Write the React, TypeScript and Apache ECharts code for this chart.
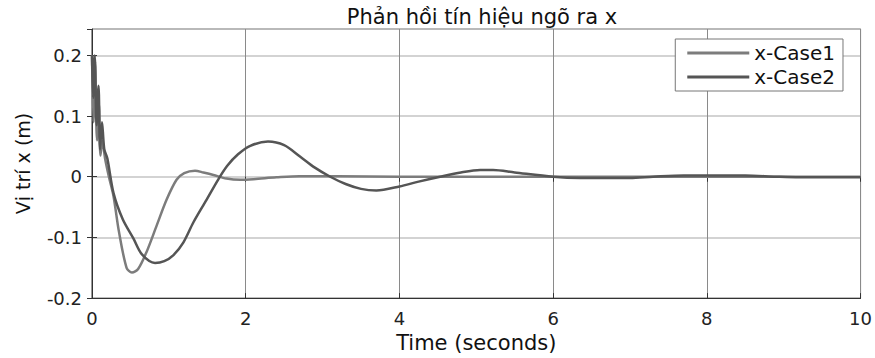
import React, { useEffect, useRef } from "react";
import * as echarts from "echarts";

const titleText = "Phản hồi tín hiệu ngõ ra x";
const xAxisName = "Time (seconds)";
const yAxisName = "Vị trí x (m)";
const seriesNames = ["x-Case1", "x-Case2"];

const tCase1 = [0, 0.02, 0.04, 0.065, 0.09, 0.11, 0.135, 0.17, 0.22, 0.28, 0.35, 0.45, 0.52, 0.6, 0.71, 0.84, 0.97, 1.1, 1.2, 1.34, 1.45, 1.58, 1.75, 1.93, 2.1, 2.4, 2.7, 3.2, 4, 5, 6, 7, 8, 9, 10];
const xCase1 = [0.2, 0.09, 0.19, 0.06, 0.12, 0.035, 0.06, 0.03, 0.0, -0.032, -0.09, -0.15, -0.158, -0.152, -0.124, -0.081, -0.038, -0.005, 0.006, 0.01, 0.007, 0.003, -0.003, -0.005, -0.004, -0.001, 0.001, 0.001, 0, 0, 0, 0, 0, 0, 0];

const tCase2 = [0, 0.015, 0.035, 0.06, 0.085, 0.105, 0.13, 0.16, 0.2, 0.28, 0.4, 0.54, 0.65, 0.82, 0.94, 1.06, 1.19, 1.32, 1.49, 1.64, 1.76, 1.9, 2.06, 2.29, 2.5, 2.71, 2.9, 3.1, 3.3, 3.5, 3.7, 4.0, 4.25, 4.53, 4.8, 5.05, 5.22, 5.5, 6.0, 6.35, 7.0, 7.3, 7.7, 8.5, 8.9, 9.2, 10];
const xCase2 = [0.2, 0.13, 0.2, 0.085, 0.15, 0.045, 0.09, 0.045, 0.03, -0.027, -0.07, -0.102, -0.128, -0.142, -0.139, -0.129, -0.108, -0.075, -0.038, -0.005, 0.018, 0.037, 0.051, 0.058, 0.052, 0.033, 0.015, 0, -0.012, -0.02, -0.0226, -0.016, -0.008, 0, 0.007, 0.011, 0.011, 0.007, 0, -0.002, -0.002, 0, 0.002, 0.002, 0, -0.001, -0.001];

const xTicksStep = 2;
const yTicksStep = 0.1;

const FONT = "DejaVu Sans";

export default function App() {
  const ref = useRef<HTMLDivElement>(null);
  useEffect(() => {
    if (!ref.current) return;
    const chart = echarts.init(ref.current, undefined, { renderer: "svg" });
    const yFmt = (v: number) => {
      const r = Math.round(v / yTicksStep);
      if (Math.abs(v - r * yTicksStep) > 1e-6) return "";
      const val = r * yTicksStep;
      if (r === 0) return "0";
      return val.toFixed(1);
    };
    const hiddenAxisCommon = {
      axisLine: { show: false },
      axisLabel: { show: false },
      splitLine: { show: false },
    };
    chart.setOption({
      animation: false,
      backgroundColor: "#ffffff",
      title: {
        text: titleText,
        left: 477,
        textAlign: "center",
        top: 1,
        textStyle: { fontFamily: FONT, fontSize: 21, fontWeight: "normal", color: "#111" },
      },
      legend: {
        data: seriesNames,
        orient: "vertical",
        right: 32,
        top: 39,
        backgroundColor: "#ffffff",
        borderColor: "#777",
        borderWidth: 1,
        padding: [4, 8, 4, 12],
        itemWidth: 62,
        itemHeight: 3,
        itemGap: 4,
        icon: "rect",
        textStyle: { fontFamily: FONT, fontSize: 20, color: "#111" },
      },
      grid: {
        left: 92,
        right: 14,
        top: 29,
        bottom: 54,
        show: true,
        borderColor: "#333",
        borderWidth: 1,
      },
      xAxis: [
        {
          type: "value",
          min: 0,
          max: 10,
          interval: xTicksStep,
          name: xAxisName,
          nameLocation: "middle",
          nameGap: 33,
          nameTextStyle: { fontFamily: FONT, fontSize: 21, color: "#111" },
          axisLine: { show: true, onZero: false, lineStyle: { color: "#333" } },
          axisTick: { show: true, inside: true, length: 5, lineStyle: { color: "#333" } },
          axisLabel: { fontFamily: FONT, fontSize: 18, color: "#222", margin: 11 },
          splitLine: { show: true, lineStyle: { color: "#8a8a8a", width: 1 } },
        },
        {
          type: "value",
          position: "top",
          min: 0,
          max: 10,
          interval: xTicksStep,
          axisTick: { show: true, inside: true, length: 5, lineStyle: { color: "#333" } },
          ...hiddenAxisCommon,
        },
      ],
      yAxis: [
        {
          type: "value",
          min: -0.2,
          max: 0.2435,
          interval: yTicksStep,
          name: yAxisName,
          nameLocation: "middle",
          nameGap: 60,
          nameTextStyle: { fontFamily: FONT, fontSize: 19, color: "#111" },
          axisLine: { show: true, onZero: false, lineStyle: { color: "#333" } },
          axisTick: { show: true, inside: true, length: 5, lineStyle: { color: "#333" } },
          axisLabel: { fontFamily: FONT, fontSize: 18, color: "#222", margin: 10, formatter: yFmt, showMaxLabel: false },
          splitLine: { show: true, lineStyle: { color: "#c4c4c4", width: 1.5 } },
        },
        {
          type: "value",
          position: "right",
          min: -0.2,
          max: 0.2435,
          interval: yTicksStep,
          axisTick: { show: true, inside: true, length: 5, lineStyle: { color: "#333" } },
          ...hiddenAxisCommon,
        },
      ],
      series: [
        {
          name: seriesNames[0],
          type: "line",
          data: tCase1.map((t, i) => [t, xCase1[i]]),
          showSymbol: false,
          smooth: 0.3,
          lineStyle: { color: "#7c7c7c", width: 2.5 },
          itemStyle: { color: "#7c7c7c" },
        },
        {
          name: seriesNames[1],
          type: "line",
          data: tCase2.map((t, i) => [t, xCase2[i]]),
          showSymbol: false,
          smooth: 0.3,
          lineStyle: { color: "#555555", width: 2.5 },
          itemStyle: { color: "#555555" },
        },
      ],
    });
    return () => chart.dispose();
  }, []);
  return (
    <div
      ref={ref}
      style={{ position: "fixed", left: 0, top: 0, width: 875, height: 358 }}
    />
  );
}
